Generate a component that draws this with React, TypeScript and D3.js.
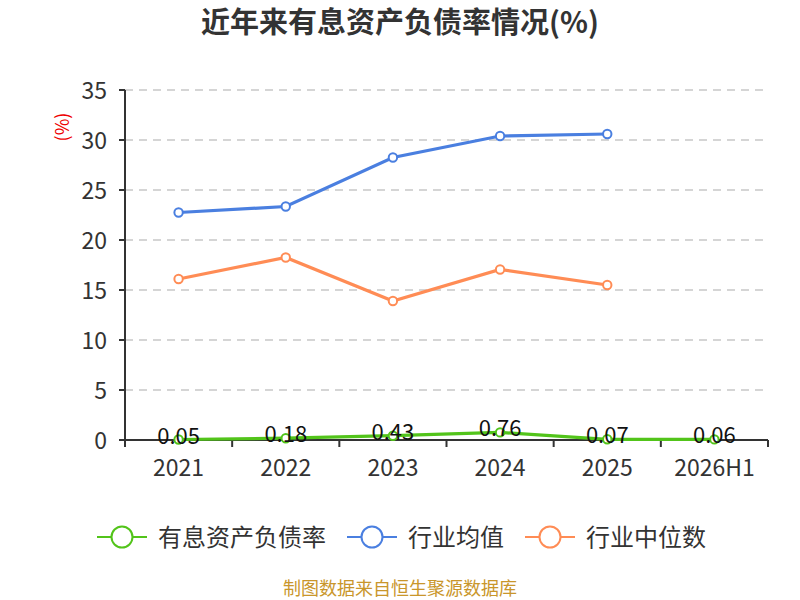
import * as d3 from "d3";

const categories = ["2021", "2022", "2023", "2024", "2025", "2026H1"];
const debtRatio = [0.05, 0.18, 0.43, 0.76, 0.07, 0.06];
const industryAvg = [22.75, 23.35, 28.25, 30.4, 30.6];
const industryMedian = [16.1, 18.25, 13.9, 17.05, 15.5];
const yTicks = [0, 5, 10, 15, 20, 25, 30, 35];

const SERIES = [
  { name: "有息资产负债率", values: debtRatio, color: "#52c41a", labels: true },
  { name: "行业均值", values: industryAvg, color: "#4a7fe0", labels: false },
  { name: "行业中位数", values: industryMedian, color: "#ff8c55", labels: false },
];

const FONT = "'Noto Sans CJK SC', 'Noto Sans', sans-serif";

export default function App() {
  const W = 800;
  const H = 600;
  const left = 125;
  const right = 768;
  const top = 90;
  const bottom = 440;

  const x = d3.scaleBand<string>().domain(categories).range([left, right]);
  const y = d3.scaleLinear().domain([0, 35]).range([bottom, top]);
  const cx = (c: string) => (x(c) ?? 0) + x.bandwidth() / 2;

  const line = d3
    .line<number>()
    .x((_, i) => cx(categories[i]))
    .y((v) => y(v));

  const legendX = [97, 347, 525];

  return (
    <div style={{ position: "absolute", left: 0, top: 0 }}>
      <svg width={W} height={H} style={{ display: "block", fontFamily: FONT }}>
        <rect width={W} height={H} fill="#fff" />
        <text x={400} y={33} textAnchor="middle" fontSize={29} fontWeight="bold" fill="#333">
          近年来有息资产负债率情况(%)
        </text>

        {/* grid */}
        {yTicks.slice(1).map((t) => (
          <line
            key={t}
            x1={left}
            x2={right}
            y1={y(t)}
            y2={y(t)}
            stroke="#c8c8c8"
            strokeWidth={1.5}
            strokeDasharray="8,6"
          />
        ))}

        {/* y axis */}
        <line x1={left} x2={left} y1={top} y2={bottom} stroke="#333" strokeWidth={2} />
        {yTicks.map((t) => (
          <g key={t}>
            <line x1={left - 6} x2={left} y1={y(t)} y2={y(t)} stroke="#333" strokeWidth={2} />
            <text x={107} y={y(t) + 8.5} textAnchor="end" fontSize={23} fill="#333">
              {t}
            </text>
          </g>
        ))}
        <text
          transform={`translate(69,127) rotate(-90)`}
          textAnchor="middle"
          fontSize={18}
          fill="#e00"
        >
          (%)
        </text>

        {/* x axis */}
        <line x1={left} x2={right} y1={bottom} y2={bottom} stroke="#333" strokeWidth={2} />
        {categories.map((c) => (
          <line
            key={"t" + c}
            x1={x(c)}
            x2={x(c)}
            y1={bottom}
            y2={bottom + 7}
            stroke="#333"
            strokeWidth={2}
          />
        ))}
        <line x1={right} x2={right} y1={bottom} y2={bottom + 7} stroke="#333" strokeWidth={2} />
        {categories.map((c) => (
          <text key={c} x={cx(c)} y={476} textAnchor="middle" fontSize={23} fill="#333">
            {c}
          </text>
        ))}

        {/* series */}
        {SERIES.slice()
          .reverse()
          .map((s) => (
            <g key={s.name}>
              <path d={line(s.values) ?? ""} fill="none" stroke={s.color} strokeWidth={3.2} />
              {s.values.map((v, i) => (
                <circle
                  key={i}
                  cx={cx(categories[i])}
                  cy={y(v)}
                  r={4.2}
                  fill="#fff"
                  stroke={s.color}
                  strokeWidth={2}
                />
              ))}
            </g>
          ))}
        {SERIES.filter((s) => s.labels).map((s) =>
          s.values.map((v, i) => (
            <text
              key={s.name + i}
              x={cx(categories[i])}
              y={y(v) + 4}
              textAnchor="middle"
              fontSize={22}
              fill="#111"
            >
              {v.toFixed(2)}
            </text>
          ))
        )}

        {/* legend */}
        {SERIES.map((s, i) => (
          <g key={"lg" + s.name} transform={`translate(${legendX[i]},537)`}>
            <line x1={0} x2={50} y1={0} y2={0} stroke={s.color} strokeWidth={2} />
            <circle cx={25} cy={0} r={10.5} fill="#fff" stroke={s.color} strokeWidth={2} />
            <text x={61} y={9} fontSize={24} fill="#333">
              {s.name}
            </text>
          </g>
        ))}

        <text x={400} y={595} textAnchor="middle" fontSize={18} fill="#c9962b">
          制图数据来自恒生聚源数据库
        </text>
      </svg>
    </div>
  );
}
